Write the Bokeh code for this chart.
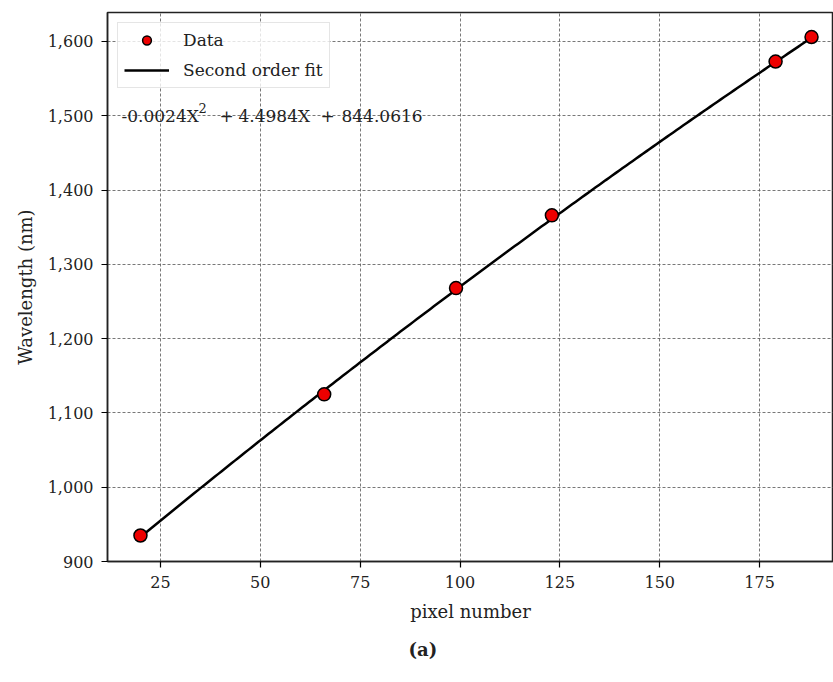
from bokeh.plotting import figure
from bokeh.models import Range1d, NumeralTickFormatter, FixedTicker, Label, Legend, LegendItem, Title
from bokeh.embed import file_html
from bokeh.resources import INLINE
import numpy as np

# Data
pixel = [20, 66, 99, 123, 179, 188]
wavelength = [935, 1125, 1268, 1366, 1573, 1606]
# Second-order fit coefficients as printed on the chart
fit_coef = [-0.0024, 4.4984, 844.0616]
x_ticks = [25, 50, 75, 100, 125, 150, 175]
y_ticks = [900, 1000, 1100, 1200, 1300, 1400, 1500, 1600]

FONT = "DejaVu Serif"
TXT = "#222222"

p = figure(width=833, height=682, output_backend="svg", toolbar_location=None,
           x_range=Range1d(11.75, 193.5), y_range=Range1d(900, 1639),
           min_border_left=107, min_border_right=0, min_border_top=12, min_border_bottom=121)

p.outline_line_color = "#222222"
p.outline_line_width = 1.5

xf = np.linspace(min(pixel), max(pixel), 200)
yf = np.polyval(fit_coef, xf)
fit_r = p.line(xf, yf, line_color="black", line_width=2.5)
data_r = p.scatter(pixel, wavelength, size=13, fill_color="#ee0000", line_color="black", line_width=1.5)

for ax in (p.xaxis[0], p.yaxis[0]):
    ax.axis_line_width = 1.5
    ax.axis_line_color = "#222222"
    ax.major_tick_line_width = 1.2
    ax.major_tick_out = 6
    ax.major_tick_in = 0
    ax.minor_tick_line_color = None
    ax.major_label_text_font = FONT
    ax.major_label_text_font_size = "16px"
    ax.major_label_text_color = TXT
    ax.axis_label_text_font = FONT
    ax.axis_label_text_font_size = "18px"
    ax.axis_label_text_font_style = "normal"
    ax.axis_label_text_color = TXT

p.xaxis.ticker = FixedTicker(ticks=x_ticks)
p.yaxis.ticker = FixedTicker(ticks=y_ticks)
p.yaxis.formatter = NumeralTickFormatter(format="0,0")
p.xaxis.axis_label = "pixel number"
p.yaxis.axis_label = "Wavelength (nm)"
p.xaxis.major_label_standoff = 8
p.yaxis.major_label_standoff = 8
p.xaxis.axis_label_standoff = 10
p.yaxis.axis_label_standoff = 9

for g in (p.xgrid[0], p.ygrid[0]):
    g.grid_line_color = "#555555"
    g.grid_line_width = 0.8
    g.grid_line_dash = "3 2"

legend = Legend(items=[LegendItem(label="Data", renderers=[data_r]),
                       LegendItem(label="Second order fit", renderers=[fit_r])],
                location="top_left")
legend.label_text_font = FONT
legend.label_text_font_size = "17px"
legend.label_text_color = TXT
legend.glyph_width = 45
legend.glyph_height = 22
legend.label_height = 22
legend.spacing = 8
legend.label_standoff = 14
legend.padding = 6
legend.margin = 10
legend.border_line_color = "#cccccc"
legend.border_line_width = 1
legend.background_fill_alpha = 0.8
p.add_layout(legend)

# Fit equation, written in pieces so that the exponent is raised
eq_x = 15.25
eq_y = 1500
eq_parts = [("-0.0024X", 0, 0, "17px"), ("2", 77, 8, "13px"), ("+", 98, 0, "17px"),
            ("4.4984X", 117, 0, "17px"), ("+", 199, 0, "17px"), ("844.0616", 220, 0, "17px")]
for txt, dx, dy, fs in eq_parts:
    p.add_layout(Label(x=eq_x, y=eq_y, x_offset=dx, y_offset=dy, text=txt,
                       text_font=FONT, text_font_size=fs, text_color=TXT,
                       text_baseline="alphabetic"))

p.add_layout(Title(text="(a)", align="left", offset=301, text_font=FONT, text_font_size="18px",
                   text_font_style="bold", text_color=TXT, standoff=24), "below")

open("out.html", "w").write(file_html(p, INLINE))
